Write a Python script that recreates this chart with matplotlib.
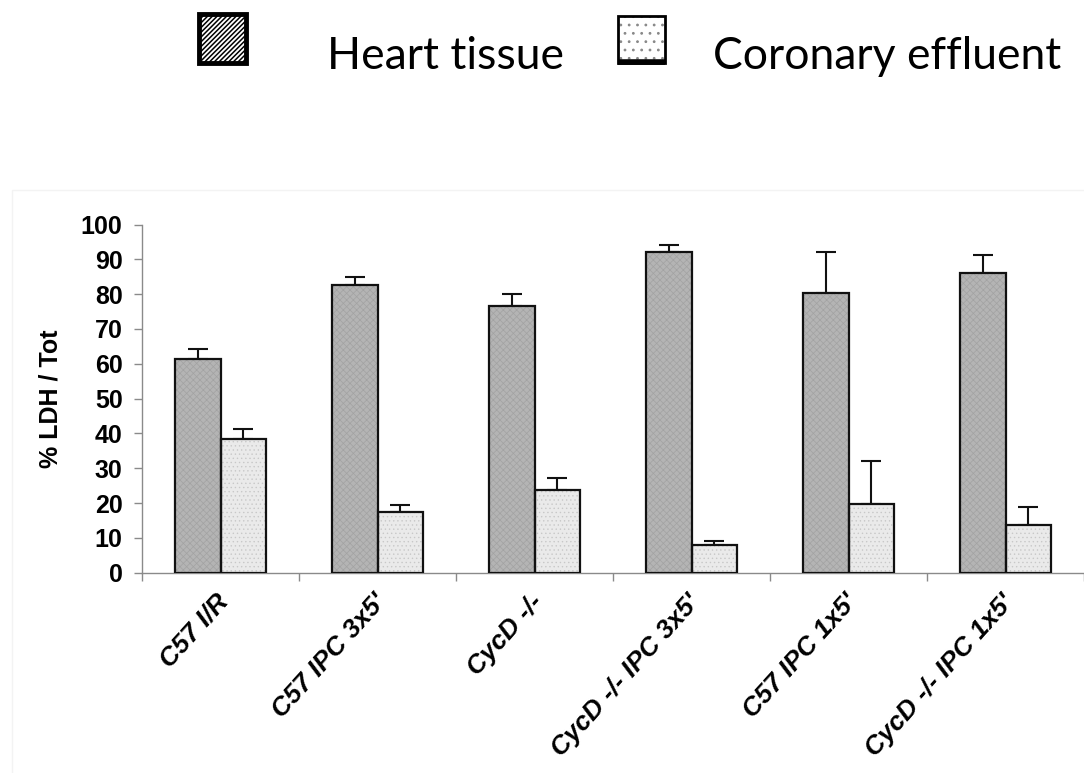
import matplotlib
matplotlib.use("Agg")
import matplotlib.pyplot as plt
from matplotlib.patches import Rectangle
import numpy as np

# Data: % LDH relative to total, mean and upper error
categories = ["C57 I/R", "C57 IPC 3x5'", "CycD -/-", "CycD -/- IPC 3x5'",
              "C57 IPC 1x5'", "CycD -/- IPC 1x5'"]
heart_tissue = [61.5, 82.5, 76.5, 92.0, 80.2, 86.1]
heart_err = [2.8, 2.5, 3.5, 2.0, 11.8, 5.1]
coronary_effluent = [38.5, 17.4, 23.7, 7.9, 19.7, 13.8]
effluent_err = [2.7, 2.0, 3.6, 1.3, 12.4, 5.0]
yticks = list(range(0, 101, 10))
series_names = ["Heart tissue", "Coronary effluent"]

W, H = 1084, 773
fig = plt.figure(figsize=(W / 100, H / 100), dpi=100)

# faint chart-area frame
fig.add_artist(Rectangle((12 / W, -0.05), 1.2, 1 - 190 / H + 0.05,
                         transform=fig.transFigure, fill=False,
                         edgecolor="#f3f3f3", linewidth=1.0))

ax = fig.add_axes([142 / W, (H - 572.7) / H, (W - 142) / W, (572.7 - 224.5) / H])

n = len(categories)
x = np.arange(n) + 0.5
bw = 0.29

# textured fills, then black outlines on top
with plt.rc_context({"hatch.linewidth": 0.5}):
    ax.bar(x - bw / 2, heart_tissue, bw, color="#b4b4b4", edgecolor="#a2a2a2",
           hatch="xxxxx", linewidth=0, zorder=2)
    ax.bar(x + bw / 2, coronary_effluent, bw, color="#eaeaea",
           edgecolor="#c8c8c8", hatch="....", linewidth=0, zorder=2)
ax.bar(x - bw / 2, heart_tissue, bw, fill=False, edgecolor="#111111",
       linewidth=1.6, zorder=3)
ax.bar(x + bw / 2, coronary_effluent, bw, fill=False, edgecolor="#111111",
       linewidth=1.6, zorder=3)

ax.errorbar(x - bw / 2, heart_tissue, yerr=[np.zeros(n), heart_err], fmt="none",
            ecolor="#111111", elinewidth=1.5, capsize=7, capthick=1.5, zorder=1)
ax.errorbar(x + bw / 2, coronary_effluent, yerr=[np.zeros(n), effluent_err],
            fmt="none", ecolor="#111111", elinewidth=1.5, capsize=7,
            capthick=1.5, zorder=1)

ax.set_xlim(0, n)
ax.set_ylim(0, 100)

for s in ["top", "right"]:
    ax.spines[s].set_visible(False)
for s in ["left", "bottom"]:
    ax.spines[s].set_color("#8a8a8a")
    ax.spines[s].set_linewidth(1.0)

ax.set_yticks(yticks)
ax.set_yticklabels([str(v) for v in yticks], fontfamily="Liberation Sans",
                   fontweight="bold", fontsize=18)
ax.tick_params(axis="y", direction="out", length=6, width=1.0,
               color="#8a8a8a", pad=8)

# category boundaries as ticks, labels at centers
ax.set_xticks(np.arange(n + 1), minor=True)
ax.set_xticks(x)
ax.tick_params(axis="x", which="minor", direction="out", length=6, width=1.0,
               color="#8a8a8a")
ax.tick_params(axis="x", which="major", length=0)
ax.set_xticklabels([])
for xi, lab in zip(x, categories):
    ax.annotate(lab, xy=(xi, 0), xycoords="data", xytext=(4, -25),
                textcoords="offset pixels", rotation=48, ha="right",
                va="center", rotation_mode="anchor",
                fontfamily="Liberation Sans", fontweight="bold",
                fontstyle="italic", fontsize=19, annotation_clip=False)

ax.set_ylabel("% LDH / Tot", fontfamily="Liberation Sans", fontweight="bold",
              fontsize=18, labelpad=13)

# legend across the top
with plt.rc_context({"hatch.linewidth": 1.1}):
    fig.add_artist(Rectangle((199 / W, 1 - 63 / H), 47 / W, 49 / H,
                             transform=fig.transFigure, facecolor="white",
                             edgecolor="black", hatch="///////", linewidth=0))
fig.add_artist(Rectangle((199 / W, 1 - 63 / H), 47 / W, 49 / H,
                         transform=fig.transFigure, fill=False,
                         edgecolor="black", linewidth=3.5))
with plt.rc_context({"hatch.linewidth": 0.8}):
    fig.add_artist(Rectangle((618 / W, 1 - 63 / H), 47 / W, 47 / H,
                             transform=fig.transFigure, facecolor="white",
                             edgecolor="#888888", hatch="..", linewidth=0))
fig.add_artist(Rectangle((618 / W, 1 - 63 / H), 47 / W, 47 / H,
                         transform=fig.transFigure, fill=False,
                         edgecolor="black", linewidth=2.0))
fig.add_artist(plt.Line2D([618 / W, 665 / W], [1 - 62 / H, 1 - 62 / H],
                          transform=fig.transFigure, color="black",
                          linewidth=4.0, solid_capstyle="butt"))

fig.text(327 / W, 1 - 69 / H, series_names[0], fontfamily="Lato",
         fontsize=32, va="baseline", ha="left")
fig.text(713 / W, 1 - 69 / H, series_names[1], fontfamily="Lato",
         fontsize=32, va="baseline", ha="left")

fig.savefig("out.png", dpi=100)
